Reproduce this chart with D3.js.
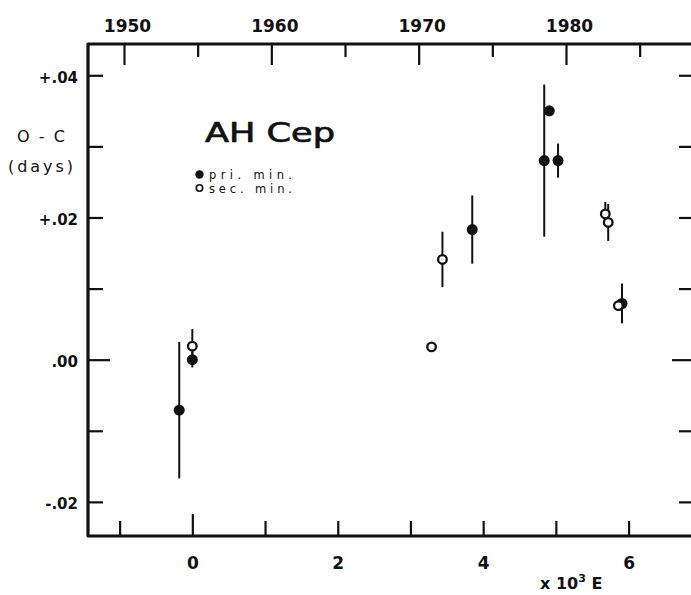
<!DOCTYPE html>
<html>
<head>
<meta charset="utf-8">
<script src="https://cdn.jsdelivr.net/npm/d3@7"></script>
<style>
  body { margin: 0; background: #fff; }
  svg { display: block; }
  text { font-family: "DejaVu Sans", sans-serif; fill: #111; }
</style>
</head>
<body>
<svg id="chart" width="691" height="595"></svg>
<script>
// epoch E in thousands of cycles, O-C in days
const priE   = [-0.18, 0.00, 3.85, 4.84, 4.91, 5.03, 5.91];
const priOC  = [-0.0071, 0.0000, 0.0183, 0.0280, 0.0350, 0.0280, 0.0079];
const priErr = [0.0096, 0.0011, 0.0048, 0.0107, 0, 0.0024, 0.0028];

const secE   = [0.00, 3.29, 3.44, 5.68, 5.72, 5.86];
const secOC  = [0.0019, 0.0018, 0.0141, 0.0205, 0.0193, 0.0076];
const secErr = [0.0024, 0.0006, 0.0039, 0.0017, 0.0026, 0];

const eTicks = [-1, 0, 1, 2, 3, 4, 5, 6];
const eLabels = [0, 2, 4, 6];
const yearTicks = [1950, 1955, 1960, 1965, 1970, 1975, 1980, 1985];
const yearLabels = [1950, 1960, 1970, 1980];
const ocTicks = [-0.02, -0.01, 0, 0.01, 0.02, 0.03, 0.04];
const ocLabelValues = [-0.02, 0, 0.02, 0.04];
const ocLabelText = ["-.02", ".00", "+.02", "+.04"];

const svg = d3.select("#chart");

const x = d3.scaleLinear().domain([-1.435, 6.9]).range([88, 694]);
const y = d3.scaleLinear().domain([-0.0248, 0.0444]).range([536, 44]);
const yr = d3.scaleLinear().domain([1950, 1980]).range([124, 566]);

const [x0, x1] = x.range();
const [y0, y1] = y.range();

// tick marks point inward
const minor = 15, major = 22;

const gBottom = svg.append("g")
  .attr("transform", `translate(0,${y0})`)
  .call(d3.axisBottom(x).tickValues(eTicks).tickSizeInner(-minor).tickSizeOuter(0).tickPadding(21)
    .tickFormat(d => eLabels.includes(d) ? d : ""));
gBottom.selectAll(".tick line").filter(d => d === 0).attr("y2", -major);

const gTop = svg.append("g")
  .attr("transform", `translate(0,${y1})`)
  .call(d3.axisTop(yr).tickValues(yearTicks).tickSizeInner(-13).tickSizeOuter(0).tickPadding(12)
    .tickFormat(d => yearLabels.includes(d) ? d : ""));
gTop.selectAll(".tick line").filter(d => d % 10 === 0).attr("y2", 21);
gTop.selectAll(".tick text").attr("dx", 3);

const gLeft = svg.append("g")
  .attr("transform", `translate(${x0},0)`)
  .call(d3.axisLeft(y).tickValues(ocTicks).tickSizeInner(-minor).tickSizeOuter(0).tickPadding(10)
    .tickFormat(d => {
      const i = ocLabelValues.findIndex(v => Math.abs(v - d) < 1e-9);
      return i >= 0 ? ocLabelText[i] : "";
    }));
gLeft.selectAll(".tick line").filter(d => d === 0).attr("x2", major);
gLeft.selectAll(".tick text").attr("dy", "0.45em");

const gRight = svg.append("g")
  .attr("transform", `translate(${x1},0)`)
  .call(d3.axisRight(y).tickValues(ocTicks).tickSizeInner(-minor).tickSizeOuter(0).tickFormat(""));
gRight.selectAll(".tick line").filter(d => d === 0).attr("x2", -major);

[gBottom, gTop, gLeft, gRight].forEach(g => {
  g.select(".domain").remove();
  g.selectAll(".tick line").attr("stroke", "#111").attr("stroke-width", 2.2);
  g.selectAll(".tick text").attr("font-family", "DejaVu Sans").attr("font-weight", "bold").attr("fill", "#111");
});
gBottom.selectAll(".tick text").attr("font-size", 17);
gTop.selectAll(".tick text").attr("font-size", 17);
gLeft.selectAll(".tick text").attr("font-size", 15);

// frame
svg.append("path")
  .attr("d", `M${x1},${y1}H${x0}V${y0}H${x1}`)
  .attr("fill", "none").attr("stroke", "#111").attr("stroke-width", 3.2)
  .attr("stroke-linejoin", "round");

// axis titles
svg.append("text").attr("x", 41).attr("y", 142).attr("text-anchor", "middle")
  .attr("font-size", 16).attr("textLength", 48).attr("lengthAdjust", "spacing").text("O - C");
svg.append("text").attr("x", 40.5).attr("y", 172).attr("text-anchor", "middle")
  .attr("font-size", 16).attr("textLength", 65).attr("lengthAdjust", "spacing").text("(days)");

const eLab = svg.append("text").attr("x", 540).attr("y", 589)
  .attr("font-size", 16).attr("font-weight", "bold");
eLab.append("tspan").text("x 10");
eLab.append("tspan").attr("font-size", 11).attr("dy", -7).text("3");
eLab.append("tspan").attr("dy", 7).text(" E");

// legend
svg.append("text").attr("x", 205).attr("y", 141.5)
  .attr("font-size", 27).attr("textLength", 130).attr("lengthAdjust", "spacingAndGlyphs")
  .attr("stroke", "#111").attr("stroke-width", 0.7).text("AH Cep");
svg.append("circle").attr("cx", 199.5).attr("cy", 174.5).attr("r", 4.2).attr("fill", "#111");
svg.append("circle").attr("cx", 199.5).attr("cy", 188).attr("r", 3.2)
  .attr("fill", "none").attr("stroke", "#111").attr("stroke-width", 1.6);
svg.append("text").attr("x", 209).attr("y", 179).attr("font-size", 11.5)
  .attr("textLength", 83).attr("lengthAdjust", "spacing").text("pri. min.");
svg.append("text").attr("x", 209).attr("y", 192.5).attr("font-size", 11.5)
  .attr("textLength", 83).attr("lengthAdjust", "spacing").text("sec. min.");

// data
const pri = priE.map((e, i) => ({ e, oc: priOC[i], err: priErr[i] }));
const sec = secE.map((e, i) => ({ e, oc: secOC[i], err: secErr[i] }));

const bars = svg.append("g").attr("stroke", "#111").attr("stroke-width", 2);
bars.selectAll("line").data(pri.concat(sec).filter(d => d.err > 0)).join("line")
  .attr("x1", d => x(d.e)).attr("x2", d => x(d.e))
  .attr("y1", d => y(d.oc + d.err)).attr("y2", d => y(d.oc - d.err));

svg.append("g").selectAll("circle").data(pri).join("circle")
  .attr("cx", d => x(d.e)).attr("cy", d => y(d.oc)).attr("r", 5.5).attr("fill", "#111");

svg.append("g").selectAll("circle").data(sec).join("circle")
  .attr("cx", d => x(d.e)).attr("cy", d => y(d.oc)).attr("r", 4.3)
  .attr("fill", "#fff").attr("stroke", "#111").attr("stroke-width", 2.3);
</script>
</body>
</html>
